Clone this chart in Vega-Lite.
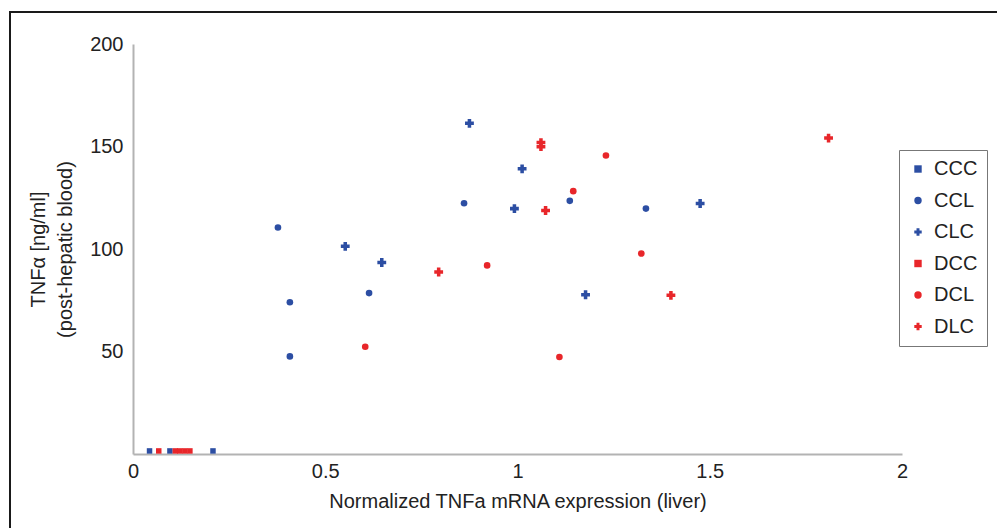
{
  "$schema": "https://vega.github.io/schema/vega-lite/v6.json",
  "width": 1000,
  "height": 520,
  "autosize": {"type": "none"},
  "padding": {"left": 10, "top": 12, "right": 0, "bottom": 0},
  "background": "white",
  "config": {
    "view": {"stroke": "#1a1a1a", "strokeWidth": 2},
    "font": "Liberation Sans",
    "axis": {
      "grid": false,
      "ticks": false,
      "domainColor": "#b3b3b3",
      "domainWidth": 2,
      "labelFont": "Liberation Sans",
      "labelFontSize": 20,
      "labelColor": "#222222",
      "titleFont": "Liberation Sans",
      "titleFontSize": 20,
      "titleFontWeight": "normal",
      "titleColor": "#222222"
    },
    "legend": {"symbolSize": 55}
  },
  "data": {
    "values": [
      {"group": "CCC", "mRNA": 0.043, "TNF": 1.5},
      {"group": "CCC", "mRNA": 0.096, "TNF": 1.5},
      {"group": "CCC", "mRNA": 0.208, "TNF": 1.5},
      {"group": "DCC", "mRNA": 0.067, "TNF": 1.5},
      {"group": "DCC", "mRNA": 0.11, "TNF": 1.5},
      {"group": "DCC", "mRNA": 0.122, "TNF": 1.5},
      {"group": "DCC", "mRNA": 0.135, "TNF": 1.5},
      {"group": "DCC", "mRNA": 0.148, "TNF": 1.5},
      {"group": "CCL", "mRNA": 0.377, "TNF": 110.5},
      {"group": "CCL", "mRNA": 0.408, "TNF": 74},
      {"group": "CCL", "mRNA": 0.408, "TNF": 47.6},
      {"group": "CCL", "mRNA": 0.614, "TNF": 78.5},
      {"group": "CCL", "mRNA": 0.861, "TNF": 122.3},
      {"group": "CCL", "mRNA": 1.136, "TNF": 123.5},
      {"group": "CCL", "mRNA": 1.334, "TNF": 119.7},
      {"group": "CLC", "mRNA": 0.552, "TNF": 101.3},
      {"group": "CLC", "mRNA": 0.647, "TNF": 93.4},
      {"group": "CLC", "mRNA": 0.875, "TNF": 161.3},
      {"group": "CLC", "mRNA": 0.992, "TNF": 119.7},
      {"group": "CLC", "mRNA": 1.012, "TNF": 139.1},
      {"group": "CLC", "mRNA": 1.177, "TNF": 77.7},
      {"group": "CLC", "mRNA": 1.475, "TNF": 122.2},
      {"group": "DCL", "mRNA": 0.604, "TNF": 52.3},
      {"group": "DCL", "mRNA": 0.921, "TNF": 92},
      {"group": "DCL", "mRNA": 1.109, "TNF": 47.3},
      {"group": "DCL", "mRNA": 1.145, "TNF": 128.2},
      {"group": "DCL", "mRNA": 1.23, "TNF": 145.6},
      {"group": "DCL", "mRNA": 1.322, "TNF": 97.8},
      {"group": "DLC", "mRNA": 0.795, "TNF": 88.8},
      {"group": "DLC", "mRNA": 1.061, "TNF": 151.9},
      {"group": "DLC", "mRNA": 1.061, "TNF": 149.9},
      {"group": "DLC", "mRNA": 1.073, "TNF": 118.8},
      {"group": "DLC", "mRNA": 1.399, "TNF": 77.4},
      {"group": "DLC", "mRNA": 1.809, "TNF": 154.1}
    ]
  },
  "encoding": {
    "x": {
      "field": "mRNA",
      "type": "quantitative",
      "scale": {"domain": [0, 2], "range": [123, 892], "nice": false, "zero": false},
      "axis": {
        "values": [0, 0.5, 1, 1.5, 2],
        "format": ".1~f",
        "title": "Normalized TNFa mRNA expression (liver)",
        "offset": -78,
        "labelPadding": 7,
        "titlePadding": 10,
        "labelFlush": false
      }
    },
    "y": {
      "field": "TNF",
      "type": "quantitative",
      "scale": {"domain": [0, 200], "range": [442, 32], "nice": false},
      "axis": {
        "values": [50, 100, 150, 200],
        "format": "d",
        "title": ["TNFα [ng/ml]", "(post-hepatic blood)"],
        "titleLineHeight": 27,
        "offset": -123,
        "labelPadding": 10,
        "titlePadding": 14
      }
    },
    "color": {
      "field": "group",
      "type": "nominal",
      "scale": {
        "domain": ["CCC", "CCL", "CLC", "DCC", "DCL", "DLC"],
        "range": ["#2c4ea3", "#2c4ea3", "#2c4ea3", "#e8262a", "#e8262a", "#e8262a"]
      },
      "legend": {
        "title": null,
        "orient": "none",
        "legendX": 889,
        "legendY": 138,
        "strokeColor": "#777777",
        "fillColor": "white",
        "padding": 9,
        "labelFont": "Liberation Sans",
        "labelFontSize": 20,
        "labelColor": "#222222",
        "symbolSize": 55,
        "rowPadding": 11.5,
        "labelOffset": 6,
        "symbolStrokeWidth": 0
      }
    },
    "shape": {
      "field": "group",
      "type": "nominal",
      "scale": {
        "domain": ["CCC", "CCL", "CLC", "DCC", "DCL", "DLC"],
        "range": ["square", "circle", "cross", "square", "circle", "cross"]
      }
    }
  },
  "layer": [
    {
      "transform": [{"filter": {"field": "group", "oneOf": ["CCC", "DCC"]}}],
      "mark": {"type": "point", "filled": true, "opacity": 1, "size": 30}
    },
    {
      "transform": [{"filter": {"field": "group", "oneOf": ["CCL", "DCL"]}}],
      "mark": {"type": "point", "filled": true, "opacity": 1, "size": 44}
    },
    {
      "transform": [{"filter": {"field": "group", "oneOf": ["CLC", "DLC"]}}],
      "mark": {"type": "point", "filled": true, "opacity": 1, "size": 78}
    }
  ]
}
